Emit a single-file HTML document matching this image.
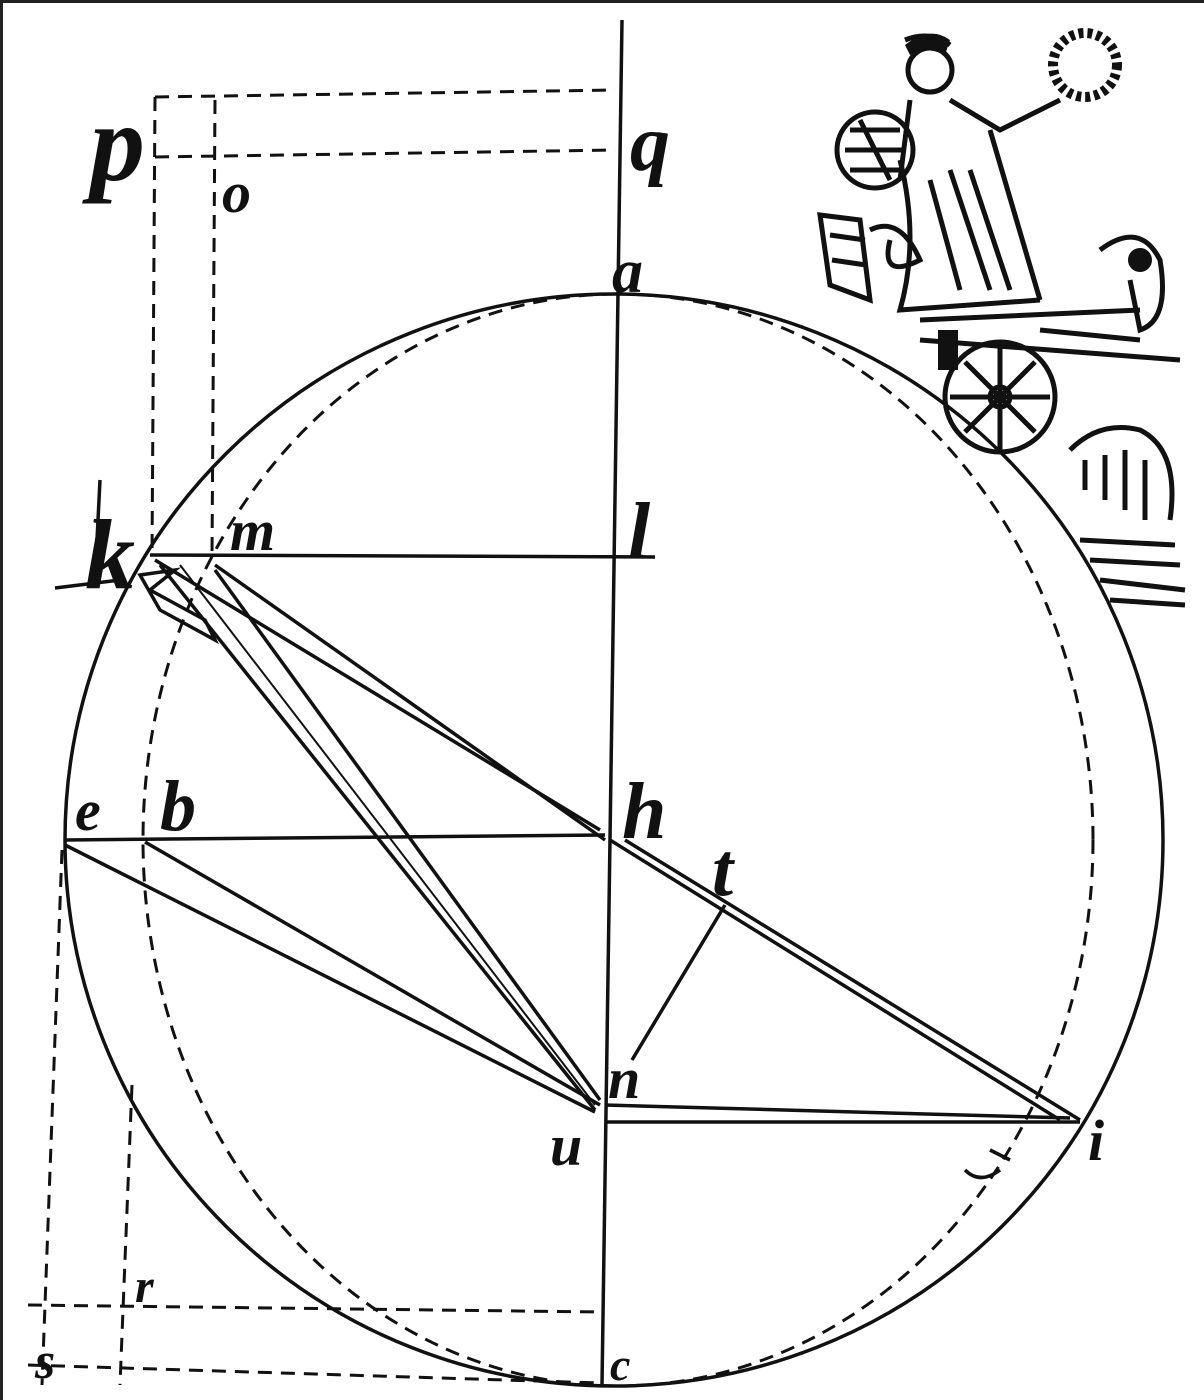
<!DOCTYPE html>
<html><head><meta charset="utf-8"><style>
html,body{margin:0;padding:0;background:#fff;}
svg{display:block;}
text{font-family:"Liberation Serif",serif;font-style:italic;font-weight:bold;fill:#111;}
</style></head><body>
<svg width="1204" height="1400" viewBox="0 0 1204 1400" xmlns="http://www.w3.org/2000/svg">
<rect x="0" y="0" width="1204" height="1400" fill="#fff"/>
<line x1="0" y1="1.5" x2="1204" y2="1.5" stroke="#222" stroke-width="3"/>
<line x1="1.5" y1="0" x2="1.5" y2="1400" stroke="#222" stroke-width="3"/>
<g fill="none" stroke="#111" stroke-width="3.5">
<ellipse cx="614" cy="840" rx="549" ry="546"/>
<line x1="622" y1="20" x2="602" y2="1385"/>
<line x1="150" y1="555" x2="655" y2="557"/>
<line x1="65" y1="840" x2="605" y2="835"/>
<line x1="155" y1="560" x2="600" y2="830"/>
<line x1="215" y1="565" x2="605" y2="840"/>
<line x1="160" y1="565" x2="595" y2="1110"/>
<line x1="215" y1="570" x2="600" y2="1100"/>
<line x1="180" y1="565" x2="595" y2="1105" stroke-width="2"/>
<line x1="65" y1="845" x2="595" y2="1112"/>
<line x1="145" y1="842" x2="600" y2="1105"/>
<line x1="610" y1="840" x2="1060" y2="1120"/>
<line x1="625" y1="840" x2="1080" y2="1120"/>
<line x1="605" y1="1105" x2="1070" y2="1118"/>
<line x1="605" y1="1122" x2="1080" y2="1122"/>
<line x1="725" y1="905" x2="632" y2="1060"/>
<path d="M140 575 L175 570 L150 590 L205 620 L215 640 L160 610 Z"/>
<path d="M55 588 L120 580 M100 480 L95 580"/>
<path d="M965 1170 Q980 1185 1000 1170 M990 1150 L1010 1160"/>
</g>
<g fill="none" stroke="#111" stroke-width="3" stroke-dasharray="14 9">
<ellipse cx="618" cy="840" rx="475" ry="546"/>
<line x1="155" y1="97" x2="615" y2="90"/>
<line x1="155" y1="157" x2="615" y2="150"/>
<line x1="155" y1="97" x2="152" y2="555"/>
<line x1="215" y1="100" x2="212" y2="555"/>
<line x1="62" y1="850" x2="42" y2="1385"/>
<line x1="132" y1="1085" x2="120" y2="1385"/>
<line x1="28" y1="1305" x2="600" y2="1312"/>
<line x1="28" y1="1365" x2="600" y2="1383"/>
</g>
<g font-size="58">
<text x="90" y="180" font-size="110">p</text>
<text x="630" y="170" font-size="80">q</text>
<text x="222" y="212">o</text>
<text x="612" y="292" font-size="62">a</text>
<text x="85" y="588" font-size="100">k</text>
<text x="230" y="550">m</text>
<text x="628" y="558" font-size="80">l</text>
<text x="75" y="830">e</text>
<text x="160" y="830" font-size="72">b</text>
<text x="622" y="838" font-size="80">h</text>
<text x="712" y="895" font-size="76">t</text>
<text x="608" y="1098">n</text>
<text x="550" y="1165">u</text>
<text x="1088" y="1160">i</text>
<text x="135" y="1302" font-size="48">r</text>
<text x="35" y="1378" font-size="52">s</text>
<text x="610" y="1380" font-size="46">c</text>
</g>
<g fill="none" stroke="#111" stroke-width="5">
<circle cx="1085" cy="65" r="32" stroke-dasharray="5 4" stroke-width="10"/>
<circle cx="930" cy="70" r="22"/>
<path d="M905 40 Q930 30 950 45 M910 100 L900 180 M950 100 L1000 130 L1060 100 M990 130 L1040 300"/>
<circle cx="875" cy="150" r="38"/>
<path d="M860 120 L890 180 M845 150 L905 150 M850 130 L900 130 M850 170 L900 170"/>
<path d="M900 160 Q920 240 900 310 L1040 300 M930 180 L960 290 M950 170 L990 290 M970 170 L1010 290"/>
<path d="M820 215 L860 220 L870 300 L830 285 Z M830 235 L865 240 M832 260 L866 265"/>
<path d="M870 230 Q900 215 920 260 Q880 280 890 240 M1100 250 Q1140 220 1160 260 Q1170 320 1140 330 L1130 280"/>
<path d="M920 340 L1180 360 M920 320 L1140 310 M1040 330 L1140 340"/>
<circle cx="1000" cy="397" r="55"/>
<circle cx="1000" cy="397" r="10"/>
<path d="M950 397 L1050 397 M1000 345 L1000 450 M965 362 L1035 432 M1035 362 L965 432"/>
<path d="M1070 450 Q1100 420 1140 430 Q1180 450 1170 520 M1085 460 L1085 490 M1105 455 L1105 500 M1125 450 L1125 510 M1145 460 L1145 520"/>
<path d="M1080 540 L1175 545 M1090 560 L1180 565 M1100 580 L1185 590 M1110 600 L1185 605"/>
</g>
<g fill="#111">
<path d="M905 45 Q930 25 950 40 L945 55 Q925 45 910 55 Z"/>
<rect x="938" y="330" width="20" height="40"/>
<circle cx="1140" cy="260" r="12"/>
</g>
</svg>
</body></html>
